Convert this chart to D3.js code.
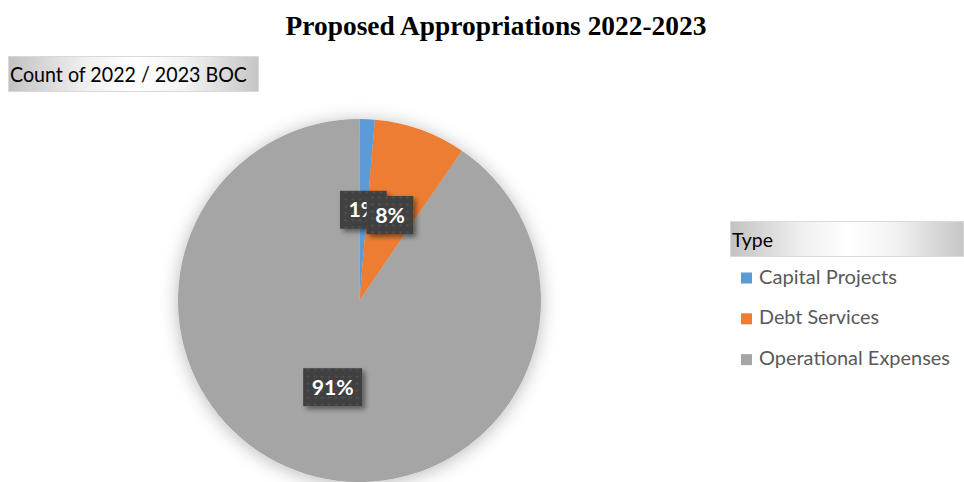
<!DOCTYPE html>
<html>
<head>
<meta charset="utf-8">
<script src="https://cdn.jsdelivr.net/npm/d3@7"></script>
<style>
  html, body { margin: 0; padding: 0; background: #fff; }
  svg { display: block; }
</style>
</head>
<body>
<svg id="chart" width="964" height="482"></svg>
<script>
// ---- data ----
const categories = ["Capital Projects", "Debt Services", "Operational Expenses"];
const values = [1.35, 8.2, 90.45];
const labels = ["1%", "8%", "91%"];
const colors = ["#5B9BD5", "#ED7D31", "#A5A5A5"];
const titleText = "Proposed Appropriations 2022-2023";
const fieldText = "Count of 2022 / 2023 BOC";
const legendTitle = "Type";

const svg = d3.select("#chart");
const defs = svg.append("defs");
const SANS = "Lato, 'Open Sans', sans-serif";

// fit font size so text has target width
function fit(sel, target) {
  const n = sel.node();
  const fs = parseFloat(sel.attr("font-size"));
  const w = n.getComputedTextLength();
  sel.attr("font-size", (fs * target / w).toFixed(2));
  return sel;
}
// compress text horizontally (Calibri-like proportions)
function squeeze(sel, target) {
  sel.attr("textLength", target).attr("lengthAdjust", "spacingAndGlyphs");
  return sel;
}

function boxGrad(id) {
  const g = defs.append("linearGradient").attr("id", id).attr("x1", "0%").attr("x2", "100%");
  [[0, "#c2c2c2"], [0.3, "#efefef"], [0.5, "#ffffff"], [0.7, "#f3f3f3"], [1, "#c6c6c6"]]
    .forEach(([o, c]) => g.append("stop").attr("offset", o).attr("stop-color", c));
}
boxGrad("boxGrad");

const pat = defs.append("pattern").attr("id", "dots").attr("patternUnits", "userSpaceOnUse")
  .attr("width", 7).attr("height", 7);
pat.append("rect").attr("width", 7).attr("height", 7).attr("fill", "#404040");
pat.append("circle").attr("cx", 3.5).attr("cy", 3.5).attr("r", 1.3).attr("fill", "#505050");

const f1 = defs.append("filter").attr("id", "pieShadow")
  .attr("x", "-20%").attr("y", "-20%").attr("width", "140%").attr("height", "140%");
f1.append("feDropShadow").attr("dx", 0).attr("dy", 2).attr("stdDeviation", 9)
  .attr("flood-color", "#000").attr("flood-opacity", 0.28);
const f2 = defs.append("filter").attr("id", "lblShadow")
  .attr("x", "-30%").attr("y", "-30%").attr("width", "160%").attr("height", "160%");
f2.append("feDropShadow").attr("dx", 3).attr("dy", 3).attr("stdDeviation", 2.5)
  .attr("flood-color", "#000").attr("flood-opacity", 0.45);

// title
const title = svg.append("text").attr("x", 496).attr("y", 35)
  .attr("text-anchor", "middle")
  .attr("font-family", "'Liberation Serif', 'Times New Roman', serif")
  .attr("font-weight", "bold").attr("font-size", 22).attr("fill", "#000")
  .text(titleText);
fit(title, 421);

// field button
svg.append("rect").attr("x", 8.5).attr("y", 56.5).attr("width", 250).attr("height", 35)
  .attr("fill", "url(#boxGrad)").attr("stroke", "#d9d9d9").attr("stroke-width", 1);
const ft = svg.append("text").attr("x", 10).attr("y", 82)
  .attr("font-family", SANS).attr("font-size", 22)
  .attr("fill", "#000").text(fieldText);
squeeze(ft, 237);

// pie
const cx = 359.5, cy = 300.5, R = 181.5;
const pie = d3.pie().sort(null).value(d => d)(values);
const arc = d3.arc().innerRadius(0).outerRadius(R);
const g = svg.append("g").attr("transform", `translate(${cx},${cy})`);
g.append("g").attr("filter", "url(#pieShadow)")
  .selectAll("path").data(pie).join("path")
  .attr("d", arc).attr("fill", (d, i) => colors[i]);

// data labels
const lg = g.append("g");
const lblSize = 21;
// measure the horizontal scale using the widest label
const probe = lg.append("text").attr("font-family", SANS).attr("font-weight", "bold")
  .attr("font-size", lblSize).text("91%");
const lblScale = 42 / probe.node().getComputedTextLength();
probe.remove();
pie.forEach((d, i) => {
  const [x, y] = arc.centroid(d);
  const grp = lg.append("g").attr("transform", `translate(${x},${y})`);
  const rect = grp.append("rect").attr("fill", "url(#dots)").attr("filter", "url(#lblShadow)");
  const t = grp.append("text").attr("text-anchor", "middle").attr("dy", "0.36em")
    .attr("font-family", SANS).attr("font-weight", "bold")
    .attr("font-size", lblSize).attr("fill", "#fff").text(labels[i]);
  const tw = t.node().getComputedTextLength() * lblScale;
  squeeze(t, tw);
  const bw = tw + 17, bh = 38;
  rect.attr("x", -bw / 2).attr("y", -bh / 2).attr("width", bw).attr("height", bh);
});

// legend
const lx = 730, ly = 221.5;
svg.append("rect").attr("x", lx + 0.5).attr("y", ly).attr("width", 233).attr("height", 35)
  .attr("fill", "url(#boxGrad)").attr("stroke", "#d9d9d9").attr("stroke-width", 1);
const lt = svg.append("text").attr("x", lx + 2).attr("y", ly + 25)
  .attr("font-family", SANS).attr("font-size", 20)
  .attr("fill", "#000").text(legendTitle);
squeeze(lt, 41);

const itemWidths = [138, 120, 191];
const items = svg.append("g").selectAll("g").data(categories).join("g")
  .attr("transform", (d, i) => `translate(${lx + 11},${283.5 + i * 40.8})`);
items.append("rect").attr("x", 0).attr("y", -11).attr("width", 11).attr("height", 11)
  .attr("fill", (d, i) => colors[i]);
items.append("text").attr("x", 18).attr("y", 0)
  .attr("font-family", SANS).attr("font-size", 19.5)
  .attr("fill", "#595959").text(d => d)
  .attr("textLength", (d, i) => itemWidths[i]).attr("lengthAdjust", "spacingAndGlyphs");
</script>
</body>
</html>
